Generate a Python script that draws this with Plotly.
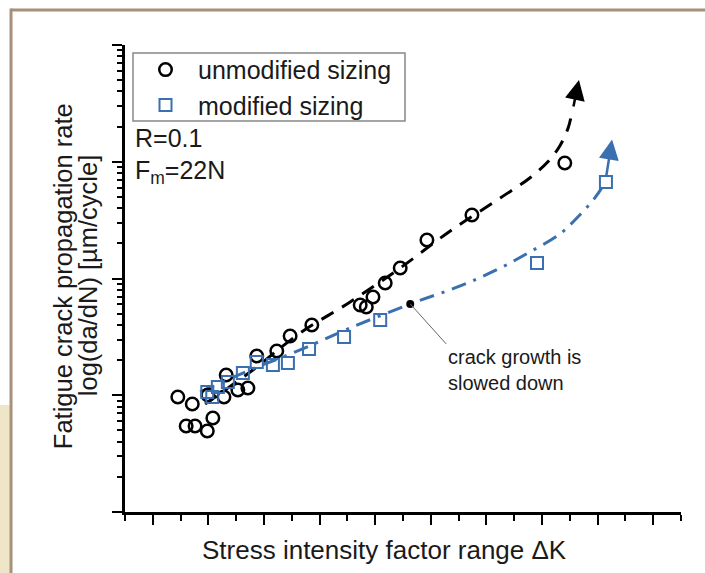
import plotly.graph_objects as go

# ---- data (x: stress intensity factor range, arbitrary linear units; y: da/dN, log10 of value) ----
unmod_x = [0.45, 0.71, 0.60, 0.76, 0.98, 1.08, 0.99, 1.28, 1.32, 1.53, 1.71, 1.87, 2.23, 2.47,
           2.86, 3.73, 3.84, 3.96, 4.18, 4.45, 4.93, 5.74, 7.41]
unmod_logy = [-2.015, -2.075, -2.263, -2.263, -2.306, -2.195, -1.998, -2.015, -1.827, -1.955,
              -1.938, -1.664, -1.621, -1.493, -1.398, -1.227, -1.244, -1.158, -1.039, -0.910,
              -0.670, -0.456, -0.011]

mod_x = [0.98, 1.07, 1.17, 1.35, 1.62, 1.87, 2.16, 2.43, 2.81, 3.44, 4.09, 6.91, 8.15]
mod_logy = [-1.972, -2.015, -1.929, -1.887, -1.809, -1.715, -1.741, -1.724, -1.604, -1.501,
            -1.355, -0.867, -0.173]

unmod_fit_x = [0.94, 1.75, 2.65, 3.55, 4.45, 5.35, 6.25, 6.78, 7.11, 7.32, 7.47, 7.54]
unmod_fit_logy = [-2.075, -1.801, -1.467, -1.201, -0.910, -0.593, -0.310, -0.139, 0.002,
                  0.135, 0.289, 0.426]

mod_fit_x = [0.85, 1.75, 2.65, 3.55, 4.63, 5.53, 6.25, 6.78, 7.32, 7.68, 7.95, 8.12]
mod_fit_logy = [-1.972, -1.784, -1.612, -1.424, -1.218, -1.064, -0.910, -0.773, -0.619,
                -0.456, -0.310, -0.191]

# arrow (tail -> tip) at the end of each trend curve
unmod_arrow = dict(tail=(7.56, 0.46), tip=(7.665, 0.70))
mod_arrow = dict(tail=(8.15, -0.139), tip=(8.26, 0.19))

# marked point on the modified-sizing curve
note_x = [4.63]
note_logy = [-1.218]

x_range = [-0.5, 9.5]
y_range_log = [-3, 1]

BLUE = "#3a6fb0"
TXT = "#1a1a1a"
FONT = "Liberation Sans, Arial, sans-serif"

def p(v):
    return [10 ** a for a in v]

fig = go.Figure()

fig.add_trace(go.Scatter(x=unmod_fit_x, y=p(unmod_fit_logy), mode="lines",
                         line=dict(color="black", width=3, dash="14px,10px", shape="spline"),
                         showlegend=False, hoverinfo="skip"))
fig.add_trace(go.Scatter(x=mod_fit_x, y=p(mod_fit_logy), mode="lines",
                         line=dict(color=BLUE, width=3, dash="15px,8px,3px,8px", shape="spline"),
                         showlegend=False, hoverinfo="skip"))

fig.add_trace(go.Scatter(x=unmod_x, y=p(unmod_logy), mode="markers", name="unmodified sizing",
                         marker=dict(symbol="circle-open", size=12.5, color="black",
                                     line=dict(width=2.5, color="black"))))
fig.add_trace(go.Scatter(x=mod_x, y=p(mod_logy), mode="markers", name="modified sizing",
                         marker=dict(symbol="square-open", size=12, color=BLUE,
                                     line=dict(width=2, color=BLUE))))
fig.add_trace(go.Scatter(x=note_x, y=p(note_logy), mode="markers", showlegend=False,
                         marker=dict(symbol="circle", size=8, color="black"), hoverinfo="skip"))

annotations = [
    dict(x=unmod_arrow["tip"][0], y=unmod_arrow["tip"][1], ax=unmod_arrow["tail"][0],
         ay=unmod_arrow["tail"][1], xref="x", yref="y", axref="x", ayref="y",
         showarrow=True, arrowhead=2, arrowsize=1.6, arrowwidth=2.5, arrowcolor="black", text=""),
    dict(x=mod_arrow["tip"][0], y=mod_arrow["tip"][1], ax=mod_arrow["tail"][0],
         ay=mod_arrow["tail"][1], xref="x", yref="y", axref="x", ayref="y",
         showarrow=True, arrowhead=2, arrowsize=1.6, arrowwidth=2.5, arrowcolor=BLUE, text=""),
    dict(x=note_x[0], y=note_logy[0], xref="x", yref="y", ax=36, ay=40,
         xanchor="left", yanchor="top", align="left", showarrow=True, arrowhead=0,
         arrowwidth=1, arrowcolor="#666666", text="crack growth is<br>slowed down",
         font=dict(size=20, color=TXT, family=FONT)),
    dict(x=0.0144, y=0.801, xref="paper", yref="paper", xanchor="left", yanchor="middle",
         showarrow=False, text="R=0.1", font=dict(size=25, color=TXT, family=FONT)),
    dict(x=0.0144, y=0.728, xref="paper", yref="paper", xanchor="left", yanchor="middle",
         showarrow=False, text="F<sub>m</sub>=22N", font=dict(size=25, color=TXT, family=FONT)),
    dict(x=0.4676, y=-0.0814, xref="paper", yref="paper", xanchor="center", yanchor="middle",
         showarrow=False, text="Stress intensity factor range ΔK",
         font=dict(size=26, color=TXT, family=FONT)),
    dict(x=-0.1115, y=0.505, xref="paper", yref="paper", xanchor="center", yanchor="middle",
         textangle=-90, showarrow=False, text="Fatigue crack propagation rate",
         font=dict(size=25.5, color=TXT, family=FONT)),
    dict(x=-0.0665, y=0.505, xref="paper", yref="paper", xanchor="center", yanchor="middle",
         textangle=-90, showarrow=False, text="log(da/dN) [µm/cycle]",
         font=dict(size=25.5, color=TXT, family=FONT)),
]

shapes = [
    dict(type="rect", xref="paper", yref="paper", x0=-0.3, x1=-0.207, y0=0.229, y1=-0.3,
         fillcolor="#efe6c9", line=dict(width=0), layer="below"),
    dict(type="line", xref="paper", yref="paper", x0=-0.205, x1=1.1, y0=1.075, y1=1.075,
         line=dict(color="#a89078", width=3)),
    dict(type="line", xref="paper", yref="paper", x0=-0.205, x1=-0.205, y0=1.078, y1=-0.3,
         line=dict(color="#a89078", width=3)),
    # legend frame
    dict(type="rect", xref="paper", yref="paper", x0=0.0144, x1=0.5036, y0=0.8373, y1=0.9829,
         fillcolor="rgba(0,0,0,0)", line=dict(color="#888888", width=1.5)),
]

axis_common = dict(showgrid=False, zeroline=False, showticklabels=False, tickcolor="black")

fig.update_layout(
    width=705, height=573,
    margin=dict(l=125, r=24, t=45, b=61),
    paper_bgcolor="white", plot_bgcolor="white",
    font=dict(family=FONT, color=TXT),
    xaxis=dict(range=x_range, tick0=0, dtick=1, ticks="outside", ticklen=10, tickwidth=2,
               minor=dict(dtick=0.5, ticks="outside", ticklen=6, tickwidth=2, tickcolor="black"),
               showline=True, linecolor="black", linewidth=2.5, **axis_common),
    xaxis2=dict(range=x_range, overlaying="x", side="top", tick0=0, dtick=1, ticks="inside",
                ticklen=10, tickwidth=2,
                minor=dict(dtick=0.5, ticks="inside", ticklen=6, tickwidth=2, tickcolor="black"),
                showline=True, linecolor="black", linewidth=2.5, **axis_common),
    yaxis=dict(type="log", range=y_range_log, dtick=1, ticks="outside", ticklen=10, tickwidth=2,
               minor=dict(dtick="D1", ticks="outside", ticklen=5, tickwidth=1.5, tickcolor="black"),
               showline=True, linecolor="black", linewidth=2.5, **axis_common),
    yaxis2=dict(type="log", range=y_range_log, overlaying="y", side="right", dtick=1,
                ticks="inside", ticklen=8, tickwidth=2,
                minor=dict(dtick="D1", ticks="inside", ticklen=4, tickwidth=1.5, tickcolor="black"),
                showline=False, **axis_common),
    legend=dict(x=0.0144, y=0.996, xanchor="left", yanchor="top", bgcolor="rgba(0,0,0,0)",
                borderwidth=0, itemwidth=55,
                font=dict(size=25, color=TXT, family=FONT), tracegroupgap=0),
    annotations=annotations,
    shapes=shapes,
)

fig.write_html("out.html")
